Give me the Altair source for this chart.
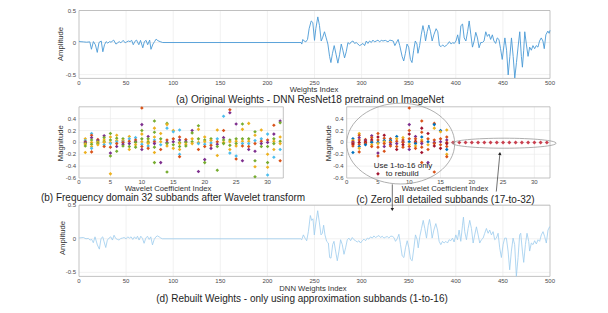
import altair as alt
import pandas as pd

# ---------------- values ----------------
# (a) original weights: (weight index, amplitude)
ORIG_WEIGHTS = [
    (0, 0.02), (1, 0.014), (4.5, 0.01), (8, 0.005), (11.5, 0.01), (13.2, -0.105), (15.3, 0.015),
    (17.4, -0.035), (19.4, -0.154), (21.2, 0), (23.6, 0.024), (25.3, -0.144), (27.1, -0.034),
    (28.8, 0.014), (30.6, -0.01), (32.3, 0.014), (34, 0.005), (36.8, 0.038), (39.2, -0.024),
    (41, -0.005), (42.7, 0.014), (44.4, -0.005), (46.9, 0.034), (49, -0.005), (50.7, 0.01),
    (52.4, 0.024), (54.2, 0.014), (55.9, 0.034), (57.6, -0.034), (59.4, 0.019), (61.1, 0.038),
    (63.5, -0.034), (65.3, 0.034), (67.7, -0.082), (69.4, 0.014), (71.2, 0.034), (72.9, -0.034),
    (75, 0.038), (76.4, -0.106), (78.5, -0.024), (80.2, 0.014), (81.9, 0.053), (83.7, 0.029),
    (86.1, 0.014), (88.9, 0),
    (235.8, 0), (236.5, -0.024), (237.6, 0.048), (239, 0.024), (240.8, 0.01), (242.6, 0.048),
    (244.3, 0.216), (246.5, 0.337), (248.2, 0.313), (250, 0.034), (251.4, 0.216), (253.5, 0.4),
    (255.3, 0.264), (257.1, 0.024), (258.5, 0.072), (260.6, 0.168), (262.4, 0.072), (264.2, -0.024),
    (266, -0.216), (267.4, -0.313), (269.1, -0.168), (270.9, -0.048), (273, -0.192), (274.8, -0.322),
    (276.6, -0.192), (278.4, -0.024), (280.1, -0.12), (281.9, -0.24), (283.7, -0.144), (285.5, 0),
    (287.2, -0.024), (289, 0.01), (290.8, 0.024), (292.6, -0.014), (294.3, 0), (296.1, -0.024),
    (297.9, -0.048), (299.6, -0.034), (301.4, -0.014), (303.2, -0.048), (305, 0.024), (306.7, -0.014),
    (308.5, 0.024), (310.3, 0), (312, 0.038), (313.8, 0.01), (315.6, 0.024), (317.4, 0.038),
    (319.1, 0.01), (320.9, 0.034), (322.7, 0.024), (325.2, 0.034), (328, 0.01),
    (330, 0.038), (333.5, 0.024), (335.3, -0.048), (337, 0), (338.8, 0.048), (340.5, -0.048),
    (343, -0.216), (344.7, -0.288), (346.5, -0.168), (348.2, -0.024), (350, -0.072), (351.8, -0.264),
    (353.5, -0.313), (355.3, -0.12), (357, 0.024), (358.8, -0.024), (359.8, -0.168), (361.6, -0.048),
    (363.3, 0.12), (365.1, 0.264), (366.8, 0.144), (367.9, 0.024), (369.6, 0.168), (371.4, 0.274),
    (373.2, 0.168), (374.9, 0.024), (376.7, 0.12), (379.1, 0.216), (380.9, 0.168), (382.6, -0.048),
    (384.4, -0.063), (386.1, -0.038), (387.9, -0.063), (389.7, -0.048), (391.4, -0.024), (393.2, 0.014),
    (395.1, -0.024), (396.7, 0), (398.4, -0.014), (400.2, 0.024), (402, 0.12), (403.7, -0.024),
    (405.4, 0.264), (407.2, 0.288), (408.9, 0.072), (410.7, 0.024), (412.5, 0.168), (414.2, 0.337),
    (416, 0.12), (417.7, -0.072), (419.5, 0.024), (421.2, 0.159), (423, 0.072), (424.7, -0.082),
    (426.5, 0), (428.2, 0), (430, 0.024), (431.8, 0.168), (433.5, 0.096), (435.3, 0.13), (437, 0.048),
    (438.8, 0.12), (440.5, 0.024), (442.3, -0.014), (444, 0.072), (445.8, 0.048), (447.5, -0.096),
    (449.3, -0.264), (451.1, -0.048), (452.1, 0.072), (453.9, -0.12), (455.6, -0.505), (457.4, -0.216),
    (459.1, 0.072), (460.9, -0.216), (462.6, -0.553), (464.4, -0.313), (466.1, -0.072), (467.9, 0.168),
    (469.6, -0.216), (470.7, -0.385), (472.1, -0.12), (473.2, 0.168), (474.9, -0.024), (476.7, -0.216),
    (478.4, -0.072), (480.2, -0.12), (481.9, -0.048), (483.7, -0.096), (485.4, -0.048), (487.2, -0.072),
    (488.9, 0.024), (490.7, 0.072), (492.5, 0.024), (493.9, -0.096), (495.6, 0.12), (497.7, 0.178),
    (499.1, 0.144), (500, 0.19),
]

# (d) rebuilt weights: (weight index, amplitude)
REBUILT_WEIGHTS = [
    (0, 0.014), (1.1, 0.014), (4.6, 0.019), (7.4, 0), (9.9, 0.005), (11.7, -0.019), (13.5, -0.01),
    (15.2, -0.058), (17, 0.029), (19.5, -0.091), (21.6, -0.154), (23.4, 0.005), (25.2, 0.029),
    (26.6, -0.043), (28.4, -0.13), (30.1, -0.019), (31.9, 0.01), (33.7, 0.029), (35.5, -0.019),
    (37.2, 0.053), (39, 0.005), (40.8, -0.01), (42.6, -0.019), (44.3, 0.005), (46.1, 0.01),
    (47.9, 0.019), (50, 0), (51.8, 0.029), (53.5, 0.01), (55.3, 0.029), (57.1, -0.01), (58.9, 0.029),
    (60.6, 0), (62.1, 0.038), (63.8, -0.019), (65.6, 0.038), (67.4, 0.005), (69.1, -0.067),
    (70.9, 0.01), (72.7, 0.038), (74.5, -0.01), (76.2, 0.029), (78, -0.091), (79.8, -0.01),
    (81.6, 0.029), (83.3, 0.043), (85.1, 0.029), (86.9, 0.01), (88.7, 0),
    (235.3, 0), (236.4, -0.014), (238.2, 0.058), (239.9, 0.01), (241.7, -0.029), (243.5, 0.106),
    (245.6, 0.346), (247, 0.274), (248.4, 0.298), (249.8, 0.058), (251.6, 0.25), (253.4, 0.418),
    (255.1, 0.25), (256.9, 0.058), (258.3, 0.082), (259.7, 0.202), (261.1, 0.058), (262.9, -0.038),
    (264.7, -0.063), (266.1, -0.279), (267.5, -0.288), (269.3, -0.087), (270.7, -0.038), (272.4, -0.183),
    (274.2, -0.327), (276, -0.183), (277.7, -0.014), (279.5, -0.087), (281.3, -0.231), (283, -0.135),
    (284.8, -0.014), (286.6, 0.01), (288.3, -0.029), (290.1, 0.019), (291.9, -0.014), (293.6, -0.029),
    (295.4, -0.048), (297.2, -0.029), (298.9, -0.063), (300.7, -0.029), (302.5, -0.005), (304.2, -0.029),
    (306, 0.01), (307.8, -0.005), (309.5, 0.029), (311.3, 0.01), (313.1, 0.043), (314.8, 0.019),
    (316.6, 0.034), (318.4, 0.048), (320.1, 0.019), (321.9, 0.038), (323.7, 0.01), (325.4, 0.024),
    (327.2, 0.034), (329, 0.01), (330.7, 0.038), (332.5, 0.038), (334.3, 0.019), (336, -0.038),
    (337.8, 0), (339.6, 0.067), (341.3, -0.087), (343.1, -0.255), (344.9, -0.279), (346.6, -0.135),
    (348.4, -0.029), (350.2, -0.135), (351.9, -0.303), (353.7, -0.327), (355.5, -0.135), (357.2, 0.058),
    (359, -0.014), (360.1, -0.135), (361.8, 0.034), (363.6, 0.154), (365.4, 0.274), (367.1, 0.154),
    (368.9, 0.01), (370.7, 0.202), (372.1, 0.288), (373.5, 0.178), (374.9, 0.01), (376.7, 0.13),
    (378.8, 0.226), (380.6, 0.13), (382.3, -0.038), (384.1, -0.087), (385.9, -0.038), (387.6, -0.063),
    (389.4, -0.038), (391.2, -0.063), (392.9, -0.014), (394.7, -0.029), (396.5, 0.01), (398.2, -0.048),
    (400, 0.058), (401.8, -0.014), (403.5, 0.13), (405.3, -0.038), (407.1, 0.202), (408.1, 0.322),
    (409.5, 0.106), (411.3, -0.014), (413.1, 0.154), (414.8, 0.274), (416.6, 0.154), (418.4, -0.063),
    (420.1, 0.058), (421.9, 0.178), (423.7, 0.058), (425.4, -0.063), (427.2, -0.014), (429, 0.01),
    (430.7, 0.082), (432.5, 0.154), (434.3, 0.082), (436, 0.13), (437.8, 0.058), (439.6, 0.106),
    (441.3, -0.014), (443.1, 0.01), (444.9, 0.082), (446.6, -0.135), (448.4, -0.279), (450.2, -0.087),
    (451.9, 0.01), (453.7, 0.01), (455.5, -0.183), (457.2, -0.462), (459, -0.183), (460.8, 0.01),
    (462.5, -0.087), (464.3, -0.558), (466.1, -0.279), (467.8, 0.058), (468.9, 0.082), (470.7, -0.183),
    (472.1, -0.351), (473.9, -0.087), (475.6, 0.082), (477.4, -0.038), (478.4, -0.183), (480.2, -0.063),
    (482, -0.087), (483.7, -0.029), (485.5, -0.077), (487.3, -0.014), (489, -0.038), (490.8, 0.058),
    (492.6, 0.106), (494.3, 0.034), (496.1, -0.063), (497.9, 0.13), (499.6, 0.178), (500, 0.18),
]

# (b) wavelet coefficient magnitudes, one list per subband 1..32
SUBBAND_COEFFS = [
    [0.06, 0.03, 0.01, 0.0, -0.02, -0.03, -0.06, -0.17],
    [0.15, 0.12, 0.08, 0.04, 0.0, -0.03, -0.07, -0.1, -0.16],
    [0.05, 0.03, 0.01, 0.0, -0.02, -0.04],
    [0.11, 0.08, 0.04, 0.01, 0.0, -0.04, -0.07],
    [0.15, 0.09, 0.04, 0.0, -0.02, -0.08, -0.18, -0.23, -0.53],
    [0.12, 0.07, 0.03, 0.01, -0.02, -0.07, -0.15],
    [0.06, 0.03, 0.01, 0.0, -0.03, -0.06],
    [0.1, 0.06, 0.02, -0.02, -0.07, -0.12],
    [0.08, 0.04, 0.01, 0.0, -0.04, -0.08],
    [0.58, 0.30, 0.2, 0.14, 0.06, 0.01, -0.03, -0.07, -0.12],
    [0.1, 0.06, 0.02, 0.0, -0.02, -0.06, -0.1],
    [0.36, 0.24, 0.17, 0.09, 0.04, 0.01, -0.02, -0.08, -0.17, -0.34],
    [0.15, 0.06, 0.01, -0.04, -0.12, -0.34],
    [0.32, 0.3, 0.24, 0.04, 0.0, -0.02, -0.06, -0.5],
    [0.2, 0.18, 0.06, 0.01, -0.04, -0.1],
    [0.21, 0.09, 0.04, 0.0, -0.02, -0.07, -0.12, -0.2, -0.24],
    [0.05, 0.02, 0.0, -0.03, -0.06],
    [0.2, 0.16, 0.06, 0.01, -0.02],
    [0.28, 0.22, 0.06, 0.0, -0.02, -0.12, -0.49],
    [0.09, 0.04, 0.01, -0.03, -0.07, -0.29, -0.34],
    [0.06, 0.03, -0.01, -0.05, -0.1],
    [0.21, 0.06, 0.01, -0.03, -0.07, -0.22, -0.47],
    [0.44, 0.2, 0.08, 0.04, 0.0, -0.02],
    [0.55, 0.5, 0.04, 0.01, -0.05, -0.12, -0.18],
    [0.31, 0.06, 0.02, -0.02, -0.06, -0.23, -0.28],
    [0.31, 0.22, 0.06, 0.02, -0.02, -0.06, -0.31],
    [0.32, 0.06, 0.02, -0.02, -0.07, -0.12],
    [0.18, 0.12, 0.03, -0.02, -0.15, -0.31, -0.41, -0.58],
    [0.21, 0.06, 0.02, -0.02, -0.07],
    [0.14, 0.04, 0.0, -0.07, -0.2, -0.34, -0.42, -0.55],
    [0.29, 0.14, 0.06, 0.02, -0.02, -0.12, -0.25],
    [0.36, 0.33, 0.09, 0.02, -0.02, -0.12, -0.31],
]
KEPT_SUBBANDS = 16
NUM_SUBBANDS = 32

WEIGHT_TICKS = [0, 50, 100, 150, 200, 250, 300, 350, 400, 450, 500]
AMPLITUDE_TICKS = [-0.5, 0, 0.5]
SUBBAND_TICKS = [0, 5, 10, 15, 20, 25, 30]
MAGNITUDE_TICKS = [-0.6, -0.4, -0.2, 0, 0.2, 0.4]

# ---------------- styles / layout ----------------
FONT = "Liberation Sans"
GRID = "#ebebeb"
FRAME = "#b4b4b4"
TICK_COLOR = "#4a4a4a"
TEXT_COLOR = "#1e1e1e"
LINE_A = "#4a9ad6"
LINE_D = "#9ccbee"
PALETTE_B = ["#77AC30", "#EDB120", "#4DBEEE", "#D95319", "#7E2F8E", "#77AC30", "#EDB120"]
PALETTE_C = ["#D95319", "#0072BD", "#EDB120", "#D95319", "#7E2F8E", "#D95319", "#A2142F"]
ZERO_COLOR = "#C9404F"
SERIES = [f"s{i}" for i in range(7)]

W, H = 592, 297
AMP_DOMAIN = [-0.56, 0.5]
WEIGHT_DOMAIN = [0, 500]
BAND_DOMAIN = [0, 32.5]
MAG_DOMAIN = [-0.6, 0.6]

A_XR, A_YR = [71, 542], [70.4, 2.5]
B_XR, BC_YR = [71, 275.3], [170.0, 98.8]
C_XR = [338.7, 542]
D_XR, D_YR = [71, 542], [268.4, 197.2]


def scl(domain, rng):
    return alt.Scale(domain=domain, range=rng, nice=False, zero=False)


def fmt(v):
    return f"{v:g}"


def backdrop(xs, ys, xdom, ydom, xgrid, ygrid, xticks, yticks, tick_dy):
    vg = pd.DataFrame({"g": xgrid, "lo": ydom[0], "hi": ydom[1]})
    hg = pd.DataFrame({"g": ygrid, "lo": xdom[0], "hi": xdom[1]})
    fr = pd.DataFrame({"x0": [xdom[0]], "x1": [xdom[1]], "y0": [ydom[0]], "y1": [ydom[1]]})
    xl = pd.DataFrame({"v": xticks, "lab": [fmt(t) for t in xticks], "lo": ydom[0]})
    yl = pd.DataFrame({"v": yticks, "lab": [fmt(t) for t in yticks], "lo": xdom[0]})
    v = alt.Chart(vg).mark_rule(color=GRID, strokeWidth=0.7).encode(
        x=alt.X("g:Q", scale=xs, axis=None), y=alt.Y("lo:Q", scale=ys, axis=None), y2="hi:Q")
    h = alt.Chart(hg).mark_rule(color=GRID, strokeWidth=0.7).encode(
        y=alt.Y("g:Q", scale=ys, axis=None), x=alt.X("lo:Q", scale=xs, axis=None), x2="hi:Q")
    r = alt.Chart(fr).mark_rect(fillOpacity=0, stroke=FRAME, strokeWidth=0.8).encode(
        x=alt.X("x0:Q", scale=xs, axis=None), x2="x1:Q",
        y=alt.Y("y0:Q", scale=ys, axis=None), y2="y1:Q")
    tx = alt.Chart(xl).mark_text(font=FONT, fontSize=6, color=TICK_COLOR, align="center",
                                 baseline="middle", dy=tick_dy).encode(
        x=alt.X("v:Q", scale=xs, axis=None), y=alt.Y("lo:Q", scale=ys, axis=None), text="lab:N")
    ty = alt.Chart(yl).mark_text(font=FONT, fontSize=6, color=TICK_COLOR, align="right",
                                 baseline="middle", dx=-3).encode(
        y=alt.Y("v:Q", scale=ys, axis=None), x=alt.X("lo:Q", scale=xs, axis=None), text="lab:N")
    return [v, h, r, tx, ty]


def line_panel(pairs, xr, yr, color, width):
    xs, ys = scl(WEIGHT_DOMAIN, xr), scl(AMP_DOMAIN, yr)
    df = pd.DataFrame(pairs, columns=["idx", "amp"])
    line = alt.Chart(df).mark_line(color=color, strokeWidth=width).encode(
        x=alt.X("idx:Q", scale=xs, axis=None),
        y=alt.Y("amp:Q", scale=ys, axis=None),
        order="idx:Q")
    parts = backdrop(xs, ys, WEIGHT_DOMAIN, AMP_DOMAIN, WEIGHT_TICKS[1:-1], AMPLITUDE_TICKS,
                     WEIGHT_TICKS, AMPLITUDE_TICKS, 5)
    return alt.layer(*parts[:3], line, *parts[3:])


# scatter tables
rows = []
for band, coeffs in enumerate(SUBBAND_COEFFS, start=1):
    for k, v in enumerate(coeffs):
        rows.append({"band": band, "value": v, "series": SERIES[(k + band) % 7]})
df_b = pd.DataFrame(rows)
df_c = df_b[df_b["band"] <= KEPT_SUBBANDS]
df_c0 = pd.DataFrame({"band": list(range(KEPT_SUBBANDS + 1, NUM_SUBBANDS + 1))})
df_c0["value"] = 0.0


def scatter_panel(df, xr, palette, zeros=None):
    xs, ys = scl(BAND_DOMAIN, xr), scl(MAG_DOMAIN, BC_YR)
    pts = alt.Chart(df).mark_point(shape="diamond", filled=True, size=13, opacity=1).encode(
        x=alt.X("band:Q", scale=xs, axis=None),
        y=alt.Y("value:Q", scale=ys, axis=None),
        color=alt.Color("series:N", scale=alt.Scale(domain=SERIES, range=palette), legend=None))
    parts = backdrop(xs, ys, BAND_DOMAIN, MAG_DOMAIN, SUBBAND_TICKS[1:], MAGNITUDE_TICKS[1:],
                     SUBBAND_TICKS, MAGNITUDE_TICKS, 4.3)
    layers = parts + [pts]
    if zeros is not None:
        z = alt.Chart(zeros).mark_point(shape="diamond", filled=True, size=16, opacity=1,
                                        color=ZERO_COLOR).encode(
            x=alt.X("band:Q", scale=xs, axis=None), y=alt.Y("value:Q", scale=ys, axis=None))
        layers.append(z)
    return alt.layer(*layers)


panel_a = line_panel(ORIG_WEIGHTS, A_XR, A_YR, LINE_A, 0.9)
panel_d = line_panel(REBUILT_WEIGHTS, D_XR, D_YR, LINE_D, 0.8)
panel_b = scatter_panel(df_b, B_XR, PALETTE_B)
panel_c = scatter_panel(df_c, C_XR, PALETTE_C, df_c0)

one = pd.DataFrame({"k": [0]})


def label(text, x, y, size, color=TEXT_COLOR, angle=0):
    return alt.Chart(pd.DataFrame({"t": [text]})).mark_text(
        font=FONT, fontSize=size, color=color, align="center", baseline="middle",
        angle=angle).encode(x=alt.value(x), y=alt.value(y), text="t:N")


def ellipse_path(r):
    k = 0.5523
    return (f"M -1 0 C -1 {-k * r:.4f} {-k:.4f} {-r:.4f} 0 {-r:.4f} "
            f"C {k:.4f} {-r:.4f} 1 {-k * r:.4f} 1 0 "
            f"C 1 {k * r:.4f} {k:.4f} {r:.4f} 0 {r:.4f} "
            f"C {-k:.4f} {r:.4f} -1 {k * r:.4f} -1 0 Z")


def ellipse(cx, cy, w, ratio):
    return alt.Chart(one).mark_point(shape=ellipse_path(ratio), size=w * w, filled=False,
                                     opacity=1, color="#9a9a9a", strokeWidth=0.8).encode(
        x=alt.value(cx), y=alt.value(cy))


def segment(x1, y1, x2, y2):
    return alt.Chart(one).mark_rule(color="#333333", strokeWidth=0.7).encode(
        x=alt.value(x1), y=alt.value(y1), x2=alt.value(x2), y2=alt.value(y2))


def head(x, y, shape, angle=0):
    return alt.Chart(one).mark_point(shape=shape, filled=True, size=12, opacity=1,
                                     color="#222222", angle=angle).encode(
        x=alt.value(x), y=alt.value(y))


AX = "#333333"
annotations = [
    label("Amplitude", 53, 36, 7.7, AX, 270),
    label("Magnitude", 53, 135.2, 7.7, AX, 270),
    label("Magnitude", 320.5, 135.2, 7.7, AX, 270),
    label("Amplitude", 54.5, 230, 7.7, AX, 270),
    label("Weights Index", 306, 82.3, 7.7, AX),
    label("(a) Original Weights - DNN ResNet18 pretraind on ImageNet", 302, 91.6, 10),
    label("Wavelet Coefficient  Index", 160, 181.4, 7.7, AX),
    label("(b) Frequency domain 32 subbands after Wavelet transform", 165, 190.3, 10),
    label("Wavelet Coefficient  Index", 437, 181.4, 7.7, AX),
    label("(c) Zero all detailed subbands (17-to-32)", 437.5, 192.2, 10),
    label("DNN Weights Index", 305, 281, 7.7, AX),
    label("(d) Rebuilt Weights - only using approximation subbands (1-to-16)", 294, 291.3, 10),
    label("Use 1-to-16 only", 395, 157.6, 8),
    label("to rebuild", 394.3, 166.3, 8),
    ellipse(392.7, 135.6, 108, 0.748),
    ellipse(496.2, 135.2, 103.8, 0.0963),
    segment(384.3, 176.3, 384.3, 201.5),
    head(384.3, 201.5, "triangle-down"),
    segment(488.3, 183.5, 491.9, 145.5),
    head(491.9, 145.5, "triangle-up", 5),
]

chart = alt.layer(panel_a, panel_b, panel_c, panel_d, *annotations).resolve_scale(
    x="independent", y="independent", color="independent"
).properties(
    width=W, height=H, autosize=alt.AutoSizeParams(type="none"), padding=0
).configure_view(strokeWidth=0)

chart.save("out.html", embed_options={"renderer": "svg", "actions": False})
